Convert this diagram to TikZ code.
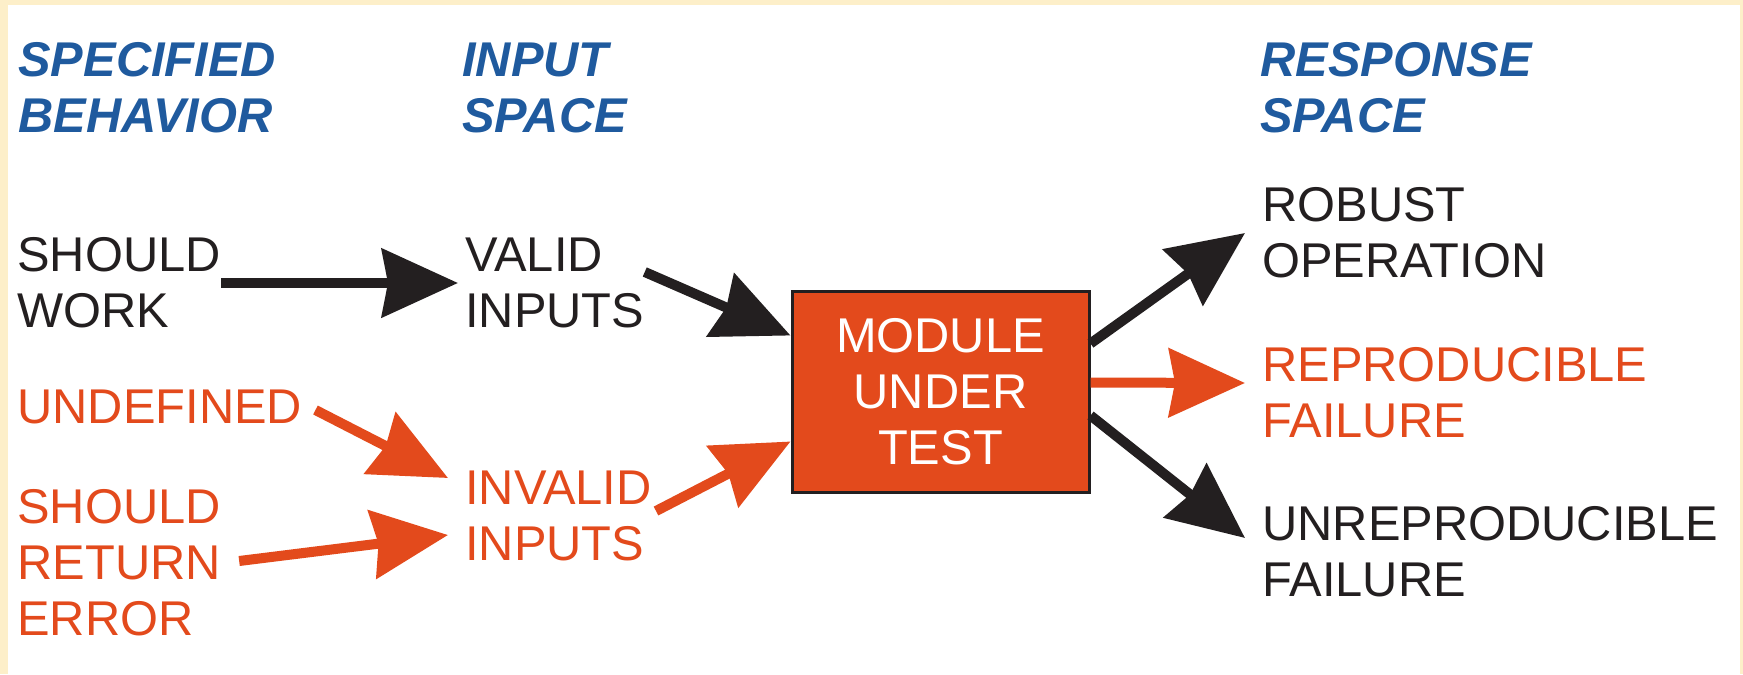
\documentclass[tikz,border=0pt]{standalone}
\usepackage{fontspec}
\setmainfont{Liberation Sans}
\usepackage{tikz}
\usetikzlibrary{arrows.meta}

\definecolor{frameyellow}{HTML}{FDEFC9}
\definecolor{headblue}{HTML}{1F5A9E}
\definecolor{failred}{HTML}{E34A1C}
\definecolor{inkblack}{HTML}{231F20}

\begin{document}
\begin{tikzpicture}[
  x=0.5pt, y=-0.5pt,
  every node/.style={font=\fontsize{24.4}{28}\selectfont, inner sep=0pt, align=left, anchor=west},
  heading/.style={text=headblue, font=\fontsize{24.4}{28}\selectfont\bfseries\itshape},
  okay/.style={text=inkblack},
  fail/.style={text=failred},
  flow/.style={line width=5pt, -{Stealth[length=38pt,width=34pt,inset=3pt]}},
  module/.style={draw=inkblack, line width=1.5pt, fill=failred, text=white,
    align=center, anchor=center, minimum width=148.5pt, minimum height=100.5pt}
]

\useasboundingbox (0,0) rectangle (1743,674);
\fill[frameyellow] (0,0) rectangle (1743,674);
\fill[white] (8,5) rectangle (1740,674);

\node[heading] (spec) at (18,88) {SPECIFIED\\BEHAVIOR};
\node[heading] (inspace) at (462,88) {INPUT\\SPACE};
\node[heading] (outspace) at (1260,88) {RESPONSE\\SPACE};

\node[okay] (work) at (17,283) {SHOULD\\WORK};
\node[fail] (undef) at (17,407) {UNDEFINED};
\node[fail] (error) at (17,563) {SHOULD\\RETURN\\ERROR};

\node[okay] (valid) at (465,283) {VALID\\INPUTS};
\node[fail] (invalid) at (465,516) {INVALID\\INPUTS};

\node[module] (mut) at (940.5,391.5) {MODULE\\UNDER\\TEST};

\node[okay] (robust) at (1262,233) {ROBUST\\OPERATION};
\node[fail] (repro) at (1262,393) {REPRODUCIBLE\\FAILURE};
\node[okay] (unrepro) at (1262,552) {UNREPRODUCIBLE\\FAILURE};

\draw[flow, inkblack] (work.east) -- ([xshift=-3.5pt]valid.west);
\draw[flow, failred] ([xshift=6.5pt,yshift=-1.5pt]undef.east) -- ([xshift=-8.5pt,yshift=19pt]invalid.west);
\draw[flow, failred] ([xshift=9pt,yshift=1pt]error.east) -- ([xshift=-8.5pt,yshift=-9.5pt]invalid.west);

\draw[flow, inkblack] ([yshift=5.5pt]valid.east) -- ([yshift=28pt]mut.west);
\draw[flow, failred] ([xshift=2pt,yshift=2.5pt]invalid.east) -- ([yshift=-25pt]mut.west);

\draw[flow, inkblack] ([yshift=24pt]mut.east) -- ([xshift=-8.5pt]robust.west);
\draw[flow, failred] ([yshift=4.5pt]mut.east) -- ([xshift=-8.5pt,yshift=5pt]repro.west);
\draw[flow, inkblack] ([yshift=-12pt]mut.east) -- ([xshift=-8.5pt,yshift=7pt]unrepro.west);
\end{tikzpicture}
\end{document}
